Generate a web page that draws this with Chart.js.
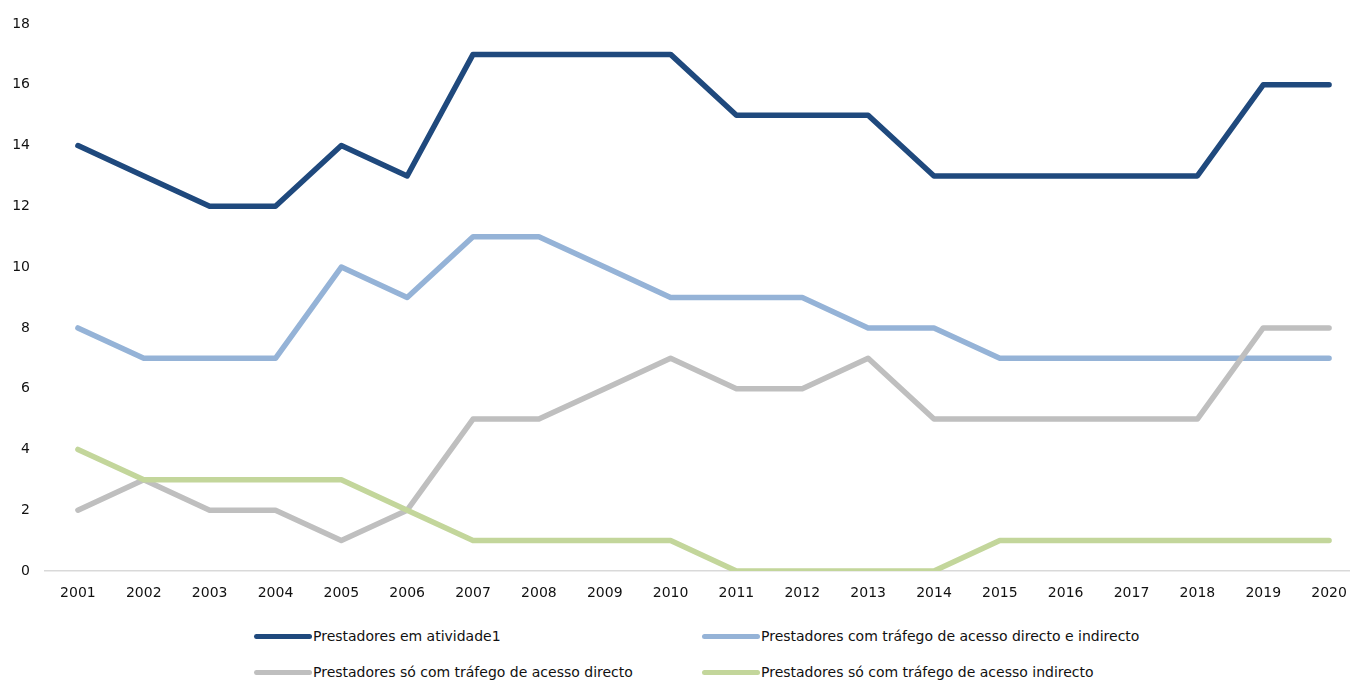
<!DOCTYPE html>
<html>
<head>
<meta charset="utf-8">
<script src="https://cdn.jsdelivr.net/npm/chart.js@4"></script>
<style>
  html, body { margin: 0; padding: 0; background: #fff; overflow: hidden; width: 1350px; height: 682px; }
  #wrap { position: absolute; left: 0; top: 0; width: 1362px; height: 611px; }
  .leg { position: absolute; font: 14px "DejaVu Sans", sans-serif; color: #111; display: flex; align-items: center; white-space: nowrap; }
  .leg i { display: inline-block; width: 58px; height: 5px; border-radius: 3px; margin-right: 1px; }
</style>
</head>
<body>
<div id="wrap"><canvas id="chart"></canvas></div>
<div id="legend"></div>
<script>
/* ── data ── */
const YEARS = ['2001','2002','2003','2004','2005','2006','2007','2008','2009','2010',
               '2011','2012','2013','2014','2015','2016','2017','2018','2019','2020'];
const ATIVIDADE   = [14,13,12,12,14,13,17,17,17,17,15,15,15,13,13,13,13,13,16,16];
const DIR_INDIR   = [8,7,7,7,10,9,11,11,10,9,9,9,8,8,7,7,7,7,7,7];
const SO_DIRECTO  = [2,3,2,2,1,2,5,5,6,7,6,6,7,5,5,5,5,5,8,8];
const SO_INDIRECTO = [4,3,3,3,3,2,1,1,1,1,0,0,0,0,1,1,1,1,1,1];

const SERIES = [
  { label: 'Prestadores em atividade1', data: ATIVIDADE, color: '#1f497d', order: 3, legend: [254, 636] },
  { label: 'Prestadores com tráfego de acesso directo e indirecto', data: DIR_INDIR, color: '#95b3d7', order: 2, legend: [702, 636] },
  { label: 'Prestadores só com tráfego de acesso directo', data: SO_DIRECTO, color: '#bfbfbf', order: 1, legend: [254, 672] },
  { label: 'Prestadores só com tráfego de acesso indirecto', data: SO_INDIRECTO, color: '#c3d69b', order: 0, legend: [702, 672] },
];

const FONT = { family: '"DejaVu Sans", sans-serif', size: 14 };

new Chart(document.getElementById('chart'), {
  type: 'line',
  data: {
    labels: YEARS,
    datasets: SERIES.map(s => ({
      label: s.label, data: s.data, order: s.order,
      borderColor: s.color, backgroundColor: s.color,
      borderWidth: 5.5, pointRadius: 0, tension: 0, fill: false,
      borderCapStyle: 'round', borderJoinStyle: 'round'
    }))
  },
  options: {
    responsive: true, maintainAspectRatio: false, animation: false,
    layout: { padding: { top: 24, left: 0, right: 0, bottom: 0 } },
    plugins: { legend: { display: false }, tooltip: { enabled: false } },
    scales: {
      x: {
        offset: true,
        grid: { display: false, drawTicks: false },
        border: { display: true, color: '#d9d9d9', width: 1.5 },
        ticks: { font: FONT, color: '#111', padding: 14, maxRotation: 0, autoSkip: false },
        afterFit: s => { s.height = 40; }
      },
      y: {
        min: 0, max: 18,
        grid: { display: false, drawTicks: false },
        border: { display: false },
        ticks: { stepSize: 2, font: FONT, color: '#111', padding: 15 },
        afterFit: s => { s.width = 45; }
      }
    }
  }
});

// legend laid out in two columns like the original
document.getElementById('legend').innerHTML = SERIES.map(s =>
  `<div class="leg" style="left:${s.legend[0]}px;top:${s.legend[1] - 9}px;height:18px">
     <i style="background:${s.color}"></i>${s.label}</div>`).join('');
</script>
</body>
</html>
